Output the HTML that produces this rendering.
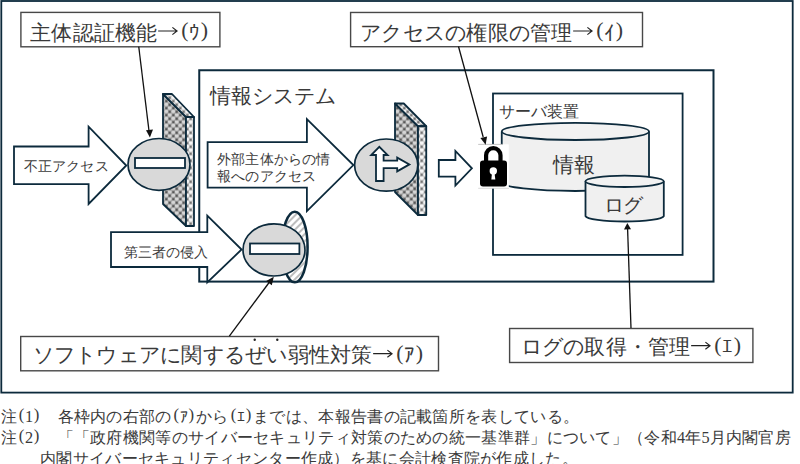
<!DOCTYPE html>
<html lang="ja">
<head>
<meta charset="utf-8">
<style>
html,body{margin:0;padding:0;background:#fff;}
body{width:800px;height:464px;overflow:hidden;position:relative;font-family:"Liberation Serif",serif;}
svg{position:absolute;left:0;top:0;}
svg text{font-family:"Liberation Serif",serif;fill:#3a3a3a;}
</style>
</head>
<body>
<svg width="800" height="464" viewBox="0 0 800 464">
<defs>
  <pattern id="pf" x="0" y="1.5" width="7" height="7" patternUnits="userSpaceOnUse">
    <rect width="7" height="7" fill="#8c8c8c"/>
    <circle cx="1.75" cy="1.75" r="2.3" fill="#a8a8a8"/>
    <circle cx="5.25" cy="5.25" r="2.3" fill="#a8a8a8"/>
    <circle cx="1.75" cy="1.35" r="1.85" fill="#d6d6d6"/>
    <circle cx="5.25" cy="4.85" r="1.85" fill="#d6d6d6"/>
    <circle cx="5.25" cy="1.75" r="1.0" fill="#4c4c4c"/>
    <circle cx="1.75" cy="5.25" r="1.0" fill="#4c4c4c"/>
  </pattern>
  <pattern id="ps" x="0" y="1.5" width="7" height="7" patternUnits="userSpaceOnUse">
    <rect width="7" height="7" fill="#b0b0b0"/>
    <circle cx="1.75" cy="1.75" r="2.3" fill="#d0d0d0"/>
    <circle cx="5.25" cy="5.25" r="2.3" fill="#d0d0d0"/>
    <circle cx="1.75" cy="1.35" r="1.85" fill="#f6f6f6"/>
    <circle cx="5.25" cy="4.85" r="1.85" fill="#f6f6f6"/>
    <circle cx="5.25" cy="1.75" r="1.0" fill="#666"/>
    <circle cx="1.75" cy="5.25" r="1.0" fill="#666"/>
  </pattern>
  <pattern id="ph" x="0" y="0" width="5" height="5" patternUnits="userSpaceOnUse" patternTransform="rotate(45)">
    <rect width="5" height="5" fill="#ffffff"/>
    <rect width="2" height="5" fill="#bdbdbd"/>
  </pattern>
</defs>

<!-- outer frame -->
<rect x="1.3" y="1" width="791.4" height="391.6" fill="none" stroke="#0c2a3c" stroke-width="1.8"/>

<!-- info system box -->
<rect x="199.25" y="70.25" width="514.25" height="211.35" fill="none" stroke="#0c2a3c" stroke-width="2"/>
<text x="209.50 230.50 251.50 272.50 293.50 314.50" y="102.50" font-size="21">情報システム</text>

<!-- server box -->
<rect x="493" y="93.5" width="189.6" height="161.4" fill="none" stroke="#0c2a3c" stroke-width="1.8"/>
<text x="498.50 514.50 530.50 546.50 562.50" y="116.50" font-size="16">サーバ装置</text>

<!-- main cylinder -->
<path d="M501.75 131.4 L501.75 182.4 A73.6 8.6 0 0 0 649 182.4 L649 131.4" fill="#f0f0f0" stroke="#0c2a3c" stroke-width="1.8"/>
<ellipse cx="575.4" cy="131.4" rx="73.6" ry="8.6" fill="#f2f2f2" stroke="#0c2a3c" stroke-width="1.8"/>
<text x="552.50 573.50" y="171.50" font-size="21">情報</text>

<!-- log cylinder -->
<path d="M585.5 181.3 L585.5 216.1 A39.2 5.7 0 0 0 663.8 216.1 L663.8 181.3" fill="#f0f0f0" stroke="#0c2a3c" stroke-width="1.8"/>
<ellipse cx="624.6" cy="181.3" rx="39.2" ry="5.7" fill="#f2f2f2" stroke="#0c2a3c" stroke-width="1.8"/>
<text x="603.50 623.00" y="211.50" font-size="19.5">ログ</text>

<!-- lock -->
<rect x="478" y="144.3" width="30.8" height="44" fill="#fff"/>
<line x1="478.2" y1="144.4" x2="503" y2="144.4" stroke="#bdbdbd" stroke-width="0.9"/>
<line x1="478.2" y1="188.3" x2="509" y2="188.3" stroke="#d0d0d0" stroke-width="0.8"/>
<path d="M486.1 161 L486.1 155.25 A7.2 7.2 0 0 1 500.5 155.25 L500.5 161" fill="none" stroke="#000" stroke-width="4.2"/>
<rect x="480" y="160.5" width="27" height="26" rx="3" fill="#000"/>
<circle cx="493.3" cy="171" r="3.7" fill="#fff"/>
<path d="M492 173.5 L494.6 173.5 L495.3 179.5 L491.3 179.5 Z" fill="#fff"/>

<!-- small hollow arrow -->
<path d="M438.8 160 L455.4 160 L455.4 151 L471.9 168.3 L455.4 185.6 L455.4 176.6 L438.8 176.6 Z" fill="#fff" stroke="#0c2a3c" stroke-width="1.8" stroke-linejoin="miter"/>

<!-- wall 1 -->
<path d="M163 94 L186 117 L186 226 L163 204 Z" fill="url(#pf)" stroke="#0c2a3c" stroke-width="1.8" stroke-linejoin="round"/>
<path d="M163 94 L172 94 L194 117 L186 117 Z" fill="url(#ps)" stroke="#0c2a3c" stroke-width="1.8" stroke-linejoin="round"/>
<path d="M186 117 L194 117 L194 226 L186 226 Z" fill="url(#ps)" stroke="#0c2a3c" stroke-width="1.8" stroke-linejoin="round"/>

<!-- wall 2 -->
<path d="M395 103.5 L418 126.25 L418 215 L395 192 Z" fill="url(#pf)" stroke="#0c2a3c" stroke-width="1.8" stroke-linejoin="round"/>
<path d="M395 103.5 L403.75 103.5 L426.25 126.25 L418 126.25 Z" fill="url(#ps)" stroke="#0c2a3c" stroke-width="1.8" stroke-linejoin="round"/>
<path d="M418 126.25 L426.25 126.25 L426.25 215 L418 215 Z" fill="url(#ps)" stroke="#0c2a3c" stroke-width="1.8" stroke-linejoin="round"/>

<!-- arrow 1 不正アクセス -->
<path d="M14 146.5 L88.6 146.5 L88.6 126.6 L126.3 165.5 L88.6 204 L88.6 184.1 L14 184.1 Z" fill="#fff" stroke="#0c2a3c" stroke-width="1.8"/>
<text x="23.50 37.70 51.90 66.10 80.30 94.50" y="171.00" font-size="14.2">不正アクセス</text>

<!-- circle 1 -->
<ellipse cx="159" cy="164.4" rx="31" ry="25.9" fill="#d9d9d9" stroke="#0c2a3c" stroke-width="1.7"/>
<rect x="135" y="158" width="50" height="10" fill="#fff" stroke="#0c2a3c" stroke-width="1.8"/>

<!-- arrow 3 外部主体からの情報へのアクセス -->
<path d="M207.6 142.2 L306.9 142.2 L306.9 119.1 L353.4 165.1 L306.9 211.2 L306.9 187.7 L207.6 187.7 Z" fill="#fff" stroke="#0c2a3c" stroke-width="1.8"/>
<text x="217.00 231.20 245.40 259.60 273.80 288.00 302.20 316.40" y="164.00" font-size="14.2">外部主体からの情</text>
<text x="217.00 231.20 245.40 259.60 273.80 288.00 302.20" y="181.00" font-size="14.2">報へのアクセス</text>

<!-- circle 3 -->
<ellipse cx="386.2" cy="165.1" rx="31.6" ry="26.1" fill="#d9d9d9" stroke="#0c2a3c" stroke-width="1.7"/>
<path d="M376 181 L376 155 L371.2 155 L379.3 146.8 L387.6 155 L383.6 155 L383.6 160.6 L397.2 160.6 L397.2 157.6 L409.4 164.4 L397.2 171.4 L397.2 168.2 L383.6 168.2 L383.6 181 Z" fill="#fff" stroke="#0c2a3c" stroke-width="1.8" stroke-linejoin="miter"/>

<!-- hatched ellipse -->
<ellipse cx="294.8" cy="247" rx="12.8" ry="35.3" fill="url(#ph)" stroke="#0c2a3c" stroke-width="2.5"/>

<!-- arrow 2 第三者の侵入 -->
<path d="M111 232.1 L207.3 232.1 L207.3 215.6 L241.6 249.5 L207.3 282.5 L207.3 267 L111 267 Z" fill="#fff" stroke="#0c2a3c" stroke-width="1.8"/>
<text x="124.00 138.00 152.00 166.00 180.00 194.00" y="256.50" font-size="14">第三者の侵入</text>

<!-- circle 2 -->
<ellipse cx="274" cy="249.9" rx="31" ry="26.1" fill="#d9d9d9" stroke="#0c2a3c" stroke-width="1.7"/>
<rect x="250" y="243.5" width="49.4" height="10.5" fill="#fff" stroke="#0c2a3c" stroke-width="1.8"/>

<!-- label boxes -->
<rect x="20.9" y="12.4" width="199" height="34.4" fill="#fff" stroke="#484848" stroke-width="1.4"/>
<text x="30.00 51.25 72.50 93.75 115.00 136.25 189.38" y="39.50" font-size="21.25">主体認証機能ｳ</text>
<text x="181.30 200.85" y="37.27" font-size="21.89">()</text>
<path d="M158.14 31.00 L177.05 31.00 M172.38 27.39 L177.05 31.00 L172.38 34.61" fill="none" stroke="#222" stroke-width="1.17"/>

<rect x="350.6" y="12.47" width="291.9" height="34.23" fill="#fff" stroke="#484848" stroke-width="1.4"/>
<text x="360.00 381.25 402.50 423.75 445.00 466.25 487.50 508.75 530.00 551.25 604.38" y="39.50" font-size="21.25">アクセスの権限の管理ｲ</text>
<text x="596.30 615.85" y="37.27" font-size="21.89">()</text>
<path d="M573.14 31.00 L592.05 31.00 M587.38 27.39 L592.05 31.00 L587.38 34.61" fill="none" stroke="#222" stroke-width="1.17"/>

<rect x="20.7" y="336.5" width="417.8" height="34.3" fill="#fff" stroke="#484848" stroke-width="1.4"/>
<text x="32.50 53.75 75.00 96.25 117.50 138.75 160.00 181.25 202.50 223.75 245.00 266.25 287.50 308.75 330.00 351.25 404.38" y="362.20" font-size="21.25">ソフトウェアに関するぜい弱性対策ｱ</text>
<text x="396.30 415.85" y="359.97" font-size="21.89">()</text>
<path d="M373.14 353.70 L392.05 353.70 M387.38 350.09 L392.05 353.70 L387.38 357.31" fill="none" stroke="#222" stroke-width="1.17"/>
<circle cx="254.7" cy="339.7" r="1.2" fill="#222"/>
<circle cx="277.3" cy="339.7" r="1.2" fill="#222"/>

<rect x="509.6" y="328.5" width="243.3" height="34" fill="#fff" stroke="#484848" stroke-width="1.4"/>
<text x="520.50 541.75 563.00 584.25 605.50 626.75 648.00 669.25 722.38" y="354.20" font-size="21.25">ログの取得・管理ｴ</text>
<text x="714.30 733.85" y="351.97" font-size="21.89">()</text>
<path d="M691.14 345.70 L710.05 345.70 M705.38 342.09 L710.05 345.70 L705.38 349.31" fill="none" stroke="#222" stroke-width="1.17"/>

<!-- pointer lines -->
<g stroke="#111" stroke-width="1.3" fill="#111">
  <line x1="138.75" y1="46.75" x2="149" y2="131"/>
  <line x1="458.5" y1="46.5" x2="483.2" y2="137"/>
  <line x1="229.35" y1="336.1" x2="269.5" y2="282"/>
  <line x1="631" y1="328" x2="627.6" y2="229"/>
</g>
<g fill="#111">
  <path d="M149.9 137.5 L146 130.3 L153 129.6 Z"/>
  <path d="M485.6 144.8 L480.4 138 L487.1 136.4 Z"/>
  <path d="M273.8 276.8 L266.2 281.1 L271.8 285.3 Z"/>
  <path d="M627.3 223.1 L624 229.4 L631 229.2 Z"/>
</g>

<!-- footnotes -->
<text x="0.50 24.95 41.25 57.55 73.85 90.15 106.45 122.75 139.05 155.35 179.80 196.10 212.40 236.85 253.15 269.45 285.75 302.05 318.35 334.65 350.95 367.25 383.55 399.85 416.15 432.45 448.75 465.05 481.35 497.65 513.95 530.25 546.55 562.85" y="422.00" font-size="16.3">注1　各枠内の右部のｱからｴまでは、本報告書の記載箇所を表している。</text>
<text x="18.76 33.75 173.61 188.60 230.66 245.65" y="420.29" font-size="16.79">()()()</text>
<text x="0.50 24.95 41.25 57.55 73.85 90.15 106.45 122.75 139.05 155.35 171.65 187.95 204.25 220.55 236.85 253.15 269.45 285.75 302.05 318.35 334.65 350.95 367.25 383.55 399.85 416.15 432.45 448.75 465.05 481.35 497.65 513.95 530.25 546.55 562.85 579.15 595.45 611.75 628.05 644.35 660.65 676.95 685.10 701.40 709.55 725.85 742.15 758.45 774.75" y="443.00" font-size="16.3">注2　「「政府機関等のサイバーセキュリティ対策のための統一基準群」について」（令和4年5月内閣官房</text>
<text x="18.76 33.75" y="441.29" font-size="16.79">()</text>
<text x="40.00 56.30 72.60 88.90 105.20 121.50 137.80 154.10 170.40 186.70 203.00 219.30 235.60 251.90 268.20 284.50 300.80 317.10 333.40 349.70 366.00 382.30 398.60 414.90 431.20 447.50 463.80 480.10 496.40 512.70 529.00 545.30 561.60" y="464.00" font-size="16.3">内閣サイバーセキュリティセンター作成）を基に会計検査院が作成した。</text>
</svg>
</body>
</html>
